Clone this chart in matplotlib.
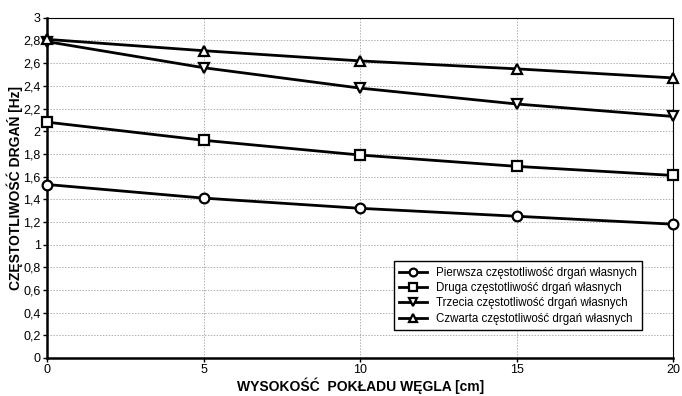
import matplotlib.pyplot as plt
from matplotlib.ticker import FuncFormatter

plt.rcParams['font.family'] = ['Liberation Sans', 'DejaVu Sans']

# Wysokość pokładu węgla [cm]
heights = [0, 5, 10, 15, 20]

# Częstotliwości drgań własnych [Hz]
freq_1 = [1.53, 1.41, 1.32, 1.25, 1.18]
freq_2 = [2.08, 1.92, 1.79, 1.69, 1.61]
freq_3 = [2.79, 2.56, 2.38, 2.24, 2.13]
freq_4 = [2.81, 2.71, 2.62, 2.55, 2.47]

labels = ['Pierwsza częstotliwość drgań własnych',
          'Druga częstotliwość drgań własnych',
          'Trzecia częstotliwość drgań własnych',
          'Czwarta częstotliwość drgań własnych']
markers = ['o', 's', 'v', '^']

fig = plt.figure(figsize=(6.82, 3.96), dpi=100)
ax = fig.add_axes([0.069, 0.096, 0.918, 0.859])

for ys, m, lab in zip([freq_1, freq_2, freq_3, freq_4], markers, labels):
    ax.plot(heights, ys, color='black', linewidth=2.0, marker=m, markersize=7,
            markerfacecolor='white', markeredgecolor='black', markeredgewidth=1.6,
            label=lab, clip_on=False, zorder=3)

ax.set_xlim(0, 20)
ax.set_ylim(0, 3)
ax.set_xticks([0, 5, 10, 15, 20])
ax.set_yticks([i * 0.2 for i in range(16)])
ax.yaxis.set_major_formatter(FuncFormatter(lambda v, p: ('%g' % round(v, 1)).replace('.', ',')))
ax.tick_params(labelsize=9, direction='out', length=3, width=1, pad=1.5)

ax.grid(True, color='#b0b0b0', linestyle=(0, (1.5, 1.5)), linewidth=0.7)
for side in ['left', 'bottom']:
    ax.spines[side].set_linewidth(1.8)
for side in ['right', 'top']:
    ax.spines[side].set_linewidth(0.8)

label_font = dict(family=['Liberation Sans Narrow', 'Liberation Sans', 'DejaVu Sans'],
                  fontsize=10, fontweight='bold')
ax.set_xlabel('WYSOKOŚĆ  POKŁADU WĘGLA [cm]', labelpad=1, **label_font)
ax.set_ylabel('CZĘSTOTLIWOŚĆ DRGAŃ [Hz]', labelpad=0, **label_font)

leg = ax.legend(loc='lower right', bbox_to_anchor=(0.96, 0.065), fontsize=8.3,
                frameon=True, fancybox=False, edgecolor='black', framealpha=1,
                handlelength=2.4, borderpad=0.45, labelspacing=0.3, markerscale=0.8)
leg.get_frame().set_linewidth(1.0)

fig.savefig('out.png', dpi=100)
